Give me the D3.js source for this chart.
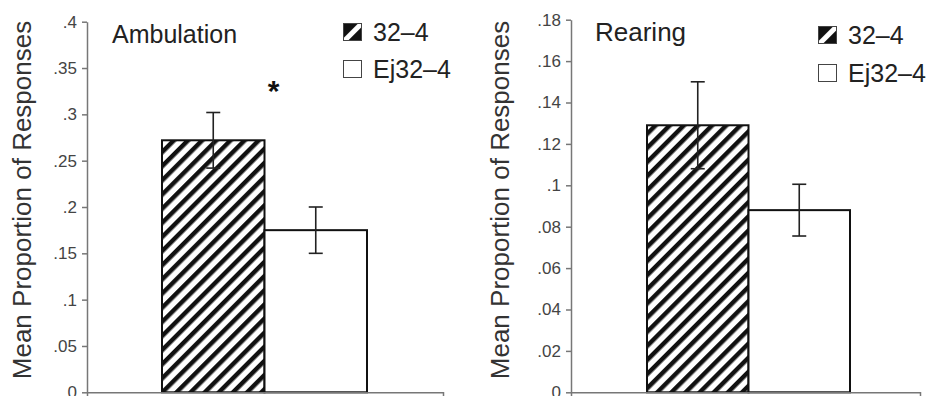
<!DOCTYPE html>
<html>
<head>
<meta charset="utf-8">
<script src="https://cdn.jsdelivr.net/npm/d3@7"></script>
<style>
	body { margin: 0; background: #fff; }
	svg { display: block; font-family: "Liberation Sans", Arial, sans-serif; }
</style>
</head>
<body>
<svg id="chart"></svg>
<script>
const series = ["32–4", "Ej32–4"],
	ambulationMeans = [0.272, 0.175],
	ambulationErr = [0.030, 0.025],
	rearingMeans = [0.129, 0.088],
	rearingErr = [0.021, 0.0125],
	ambulationTicks = [0, 0.05, 0.1, 0.15, 0.2, 0.25, 0.3, 0.35, 0.4],
	rearingTicks = [0, 0.02, 0.04, 0.06, 0.08, 0.1, 0.12, 0.14, 0.16, 0.18];

const width = 931,
	height = 396;

const svg = d3.select('svg#chart')
	.attr('width', width)
	.attr('height', height);

// hatch for the 32-4 bars
const defs = svg.append('defs');
defs.append('pattern')
	.attr('id', 'hatch')
	.attr('patternUnits', 'userSpaceOnUse')
	.attr('width', 10)
	.attr('height', 10)
	.attr('patternTransform', 'rotate(45)')
	.append('rect')
	.attr('x', 0)
	.attr('y', 0)
	.attr('width', 4.5)
	.attr('height', 10)
	.attr('fill', '#111');

// bigger one for the legend swatch
defs.append('pattern')
	.attr('id', 'hatchBig')
	.attr('patternUnits', 'userSpaceOnUse')
	.attr('width', 16)
	.attr('height', 16)
	.attr('patternTransform', 'rotate(45)')
	.append('rect')
	.attr('x', 0)
	.attr('y', 0)
	.attr('width', 11)
	.attr('height', 16)
	.attr('fill', '#111');

const panels = [
	{
		title: 'Ambulation', means: ambulationMeans, err: ambulationErr, ticks: ambulationTicks,
		axisX: 87, axisEnd: 443, yTop: 21.7, bars: [162, 367], titleX: 112, titleSize: 25,
		yTitleX: 31, legendX: 343, legendY: [23, 60], star: 0.334
	},
	{
		title: 'Rearing', means: rearingMeans, err: rearingErr, ticks: rearingTicks,
		axisX: 571, axisEnd: 920, yTop: 19.7, bars: [647, 850], titleX: 595, titleSize: 26,
		yTitleX: 509, legendX: 818, legendY: [26, 64], star: null
	}
];

const y0 = 392.3;

panels.forEach(drawPanel);

function drawPanel(p) {
	const g = svg.append('g');

	const y = d3.scaleLinear()
		.domain([0, d3.max(p.ticks)])
		.range([y0, p.yTop]);

	const x = d3.scaleBand()
		.domain(series)
		.range(p.bars);

	const data = series.map((s, i) => ({ s, mean: p.means[i], err: p.err[i], i }));

	// bars
	g.selectAll('rect.bar')
		.data(data)
		.enter().append('rect')
		.classed('bar', true)
		.attr('x', d => x(d.s))
		.attr('y', d => y(d.mean))
		.attr('width', x.bandwidth())
		.attr('height', d => y0 - y(d.mean))
		.attr('fill', d => d.i == 0 ? 'url(#hatch)' : '#fff')
		.attr('stroke', '#111')
		.attr('stroke-width', 2);

	// error bars
	const eb = g.selectAll('g.err')
		.data(data)
		.enter().append('g')
		.classed('err', true)
		.attr('stroke', '#222')
		.attr('stroke-width', 1.6);
	eb.append('line')
		.attr('x1', d => x(d.s) + x.bandwidth() / 2)
		.attr('x2', d => x(d.s) + x.bandwidth() / 2)
		.attr('y1', d => y(d.mean + d.err))
		.attr('y2', d => y(d.mean - d.err));
	[1, -1].forEach(sign => {
		eb.append('line')
			.attr('x1', d => x(d.s) + x.bandwidth() / 2 - 7)
			.attr('x2', d => x(d.s) + x.bandwidth() / 2 + 7)
			.attr('y1', d => y(d.mean + sign * d.err))
			.attr('y2', d => y(d.mean + sign * d.err));
	});

	// axes
	const yAxis = g.append('g')
		.attr('transform', `translate(${p.axisX},0)`)
		.call(d3.axisLeft(y)
			.tickValues(p.ticks)
			.tickSize(5)
			.tickSizeOuter(0)
			.tickPadding(5)
			.tickFormat(d => d === 0 ? '0' : String(+d.toFixed(2)).replace(/^0/, '')));
	yAxis.select('.domain').attr('stroke', '#777').attr('stroke-width', 1.5);
	yAxis.selectAll('.tick line').attr('stroke', '#777').attr('stroke-width', 1.5);
	yAxis.selectAll('.tick text')
		.attr('fill', '#444')
		.style('font-size', '17px')
		.style('font-family', '"Liberation Sans", Arial, sans-serif');

	const xAxis = g.append('g')
		.attr('transform', `translate(0,${y0})`)
		.call(d3.axisBottom(d3.scaleLinear().range([p.axisX, p.axisEnd]))
			.tickValues([])
			.tickSizeOuter(5));
	xAxis.select('.domain').attr('stroke', '#777').attr('stroke-width', 1.5);

	// y title
	g.append('text')
		.attr('transform', `translate(${p.yTitleX},200) rotate(-90)`)
		.attr('text-anchor', 'middle')
		.attr('fill', '#333')
		.style('font-size', '26px')
		.text('Mean Proportion of Responses');

	// panel title
	g.append('text')
		.attr('x', p.titleX)
		.attr('y', p.yTop + 21.5)
		.attr('fill', '#222')
		.style('font-size', p.titleSize + 'px')
		.text(p.title);

	// legend
	const leg = g.selectAll('g.legend')
		.data(series)
		.enter().append('g')
		.classed('legend', true)
		.attr('transform', (d, i) => `translate(${p.legendX},${p.legendY[i]})`);
	leg.append('rect')
		.attr('x', 0.5)
		.attr('y', 0.5)
		.attr('width', 18)
		.attr('height', 17)
		.attr('fill', (d, i) => i == 0 ? 'url(#hatchBig)' : '#fff')
		.attr('stroke', '#444')
		.attr('stroke-width', 1);
	leg.append('text')
		.attr('x', 30)
		.attr('y', 17.5)
		.attr('fill', '#222')
		.style('font-size', '25px')
		.text(d => d);

	if (p.star != null) {
		g.append('text')
			.attr('x', x.range()[0] + x.bandwidth() + 9)
			.attr('y', y(p.star))
			.attr('dy', '0.62em')
			.attr('text-anchor', 'middle')
			.attr('fill', '#111')
			.style('font-size', '30px')
			.style('font-weight', 'bold')
			.text('*');
	}
}
</script>
</body>
</html>
